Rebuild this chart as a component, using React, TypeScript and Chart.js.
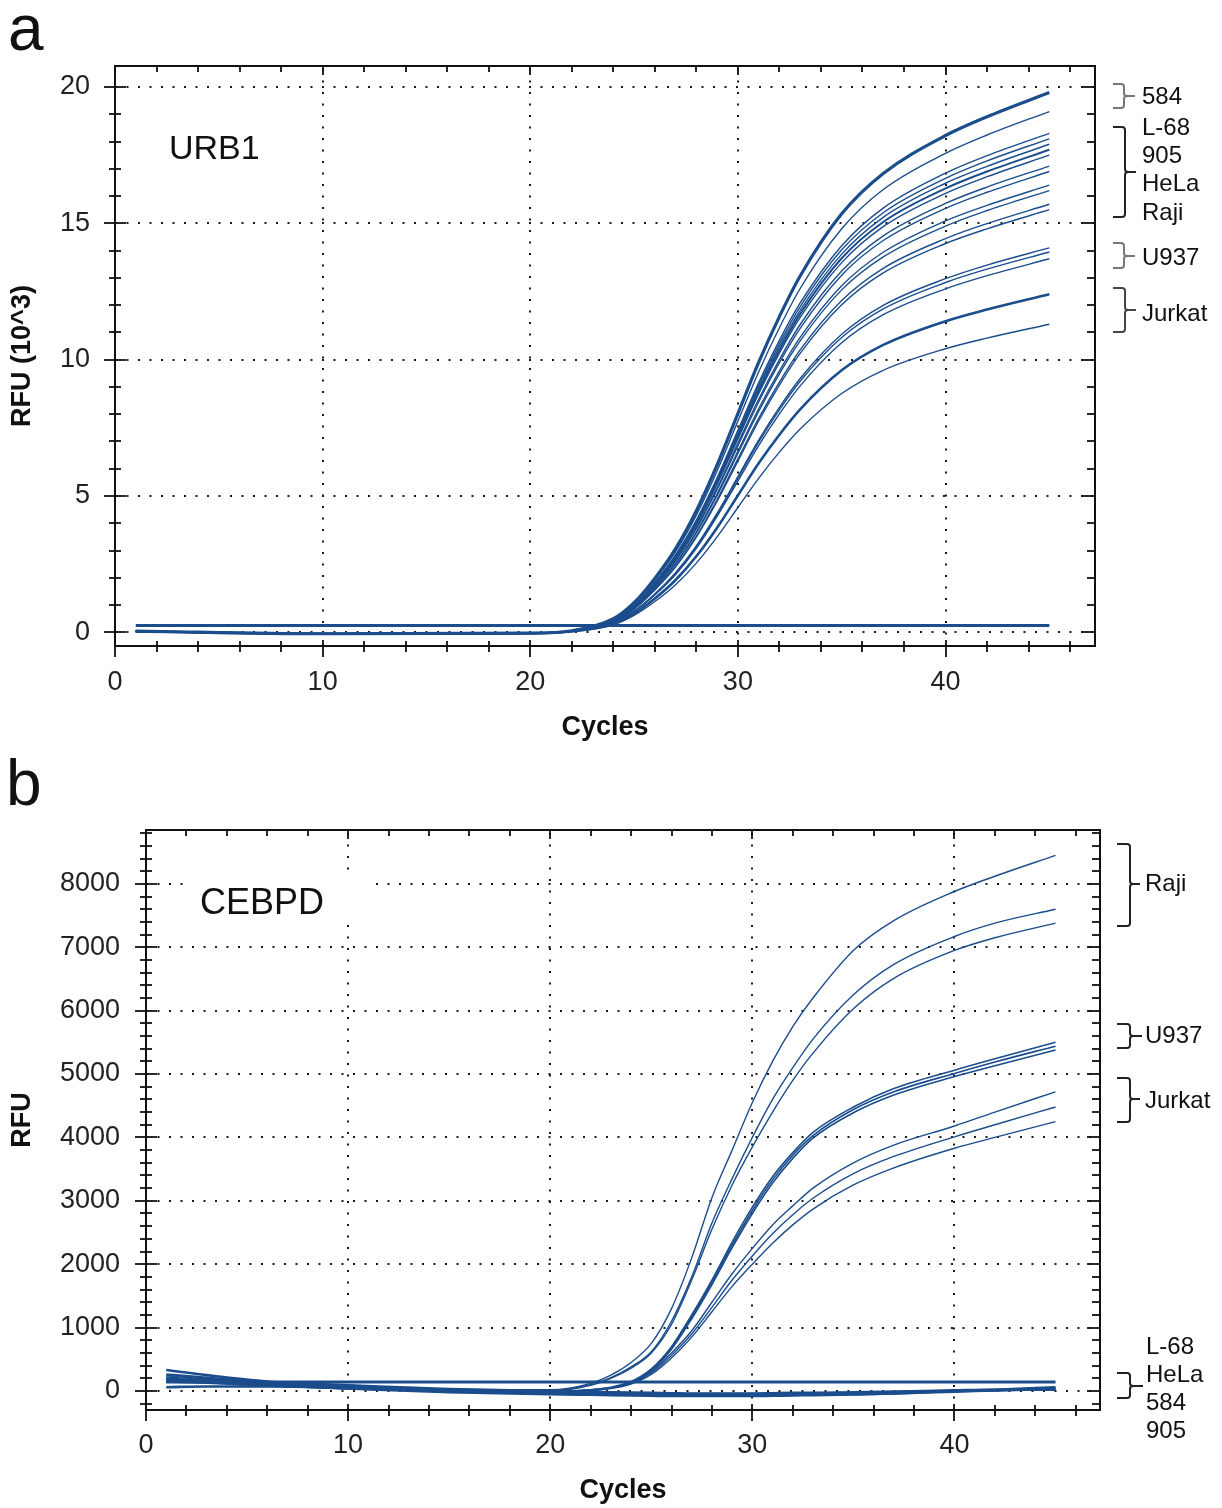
import React, { useEffect, useRef } from 'react';
import { Chart, registerables } from 'chart.js';

Chart.register(...registerables);

// ---------------- Panel a: URB1 (RFU x 10^3) ----------------
const URB1_CYCLES = [1, 10, 20, 22, 24, 25, 26, 27, 28, 29, 30, 31, 32, 33, 35, 37, 40, 42, 45];
const URB1_584_A = [0.05, -0.05, -0.03, 0.06, 0.5, 1.09, 1.98, 3.07, 4.46, 6.14, 8.02, 9.9, 11.58, 13.07, 15.35, 16.83, 18.22, 18.91, 19.8];
const URB1_584_B = [0.05, -0.05, -0.03, 0.06, 0.48, 1.05, 1.91, 2.96, 4.3, 5.92, 7.74, 9.55, 11.17, 12.61, 14.8, 16.24, 17.57, 18.24, 19.1];
const URB1_MID_1 = [0.04, -0.05, -0.03, 0.05, 0.46, 1.0, 1.83, 2.84, 4.12, 5.67, 7.41, 9.15, 10.71, 12.08, 14.18, 15.56, 16.84, 17.48, 18.3];
const URB1_MID_2 = [0.04, -0.05, -0.03, 0.05, 0.45, 1.0, 1.81, 2.81, 4.07, 5.61, 7.33, 9.05, 10.59, 11.95, 14.03, 15.39, 16.65, 17.29, 18.1];
const URB1_MID_3 = [0.04, -0.05, -0.03, 0.05, 0.45, 0.98, 1.79, 2.77, 4.03, 5.55, 7.25, 8.95, 10.47, 11.81, 13.87, 15.22, 16.47, 17.09, 17.9];
const URB1_MID_4 = [0.04, -0.05, -0.03, 0.05, 0.44, 0.97, 1.77, 2.74, 3.98, 5.49, 7.17, 8.85, 10.35, 11.68, 13.72, 15.05, 16.28, 16.9, 17.7];
const URB1_MID_5 = [0.04, -0.05, -0.03, 0.05, 0.44, 0.96, 1.75, 2.71, 3.94, 5.43, 7.09, 8.75, 10.24, 11.55, 13.56, 14.88, 16.1, 16.71, 17.5];
const URB1_MID_6 = [0.04, -0.05, -0.03, 0.05, 0.43, 0.94, 1.71, 2.65, 3.85, 5.3, 6.93, 8.55, 10.0, 11.29, 13.25, 14.54, 15.73, 16.33, 17.1];
const URB1_MID_7 = [0.04, -0.05, -0.03, 0.05, 0.42, 0.93, 1.69, 2.62, 3.8, 5.24, 6.84, 8.45, 9.89, 11.15, 13.1, 14.37, 15.55, 16.14, 16.9];
const URB1_MID_8 = [0.04, -0.05, -0.03, 0.05, 0.41, 0.9, 1.64, 2.54, 3.69, 5.08, 6.64, 8.2, 9.59, 10.82, 12.71, 13.94, 15.09, 15.66, 16.4];
const URB1_MID_9 = [0.04, -0.05, -0.03, 0.05, 0.41, 0.89, 1.62, 2.51, 3.65, 5.02, 6.56, 8.1, 9.48, 10.69, 12.56, 13.77, 14.9, 15.47, 16.2];
const URB1_MID_10 = [0.04, -0.05, -0.03, 0.05, 0.39, 0.86, 1.57, 2.43, 3.53, 4.87, 6.36, 7.85, 9.18, 10.36, 12.17, 13.35, 14.44, 14.99, 15.7];
const URB1_MID_11 = [0.04, -0.05, -0.03, 0.05, 0.39, 0.85, 1.55, 2.4, 3.49, 4.81, 6.28, 7.75, 9.07, 10.23, 12.01, 13.18, 14.26, 14.8, 15.5];
const URB1_U937_1 = [0.03, -0.05, -0.03, 0.04, 0.35, 0.78, 1.41, 2.19, 3.17, 4.37, 5.71, 7.05, 8.25, 9.31, 10.93, 11.99, 12.97, 13.47, 14.1];
const URB1_U937_2 = [0.03, -0.05, -0.03, 0.04, 0.35, 0.77, 1.4, 2.16, 3.14, 4.32, 5.65, 6.98, 8.16, 9.21, 10.81, 11.86, 12.83, 13.32, 13.95];
const URB1_U937_3 = [0.03, -0.05, -0.03, 0.04, 0.34, 0.75, 1.37, 2.12, 3.08, 4.25, 5.55, 6.85, 8.01, 9.04, 10.62, 11.65, 12.6, 13.08, 13.7];
const URB1_JURKAT_1 = [0.03, -0.05, -0.03, 0.04, 0.31, 0.68, 1.24, 1.92, 2.79, 3.84, 5.02, 6.2, 7.25, 8.18, 9.61, 10.54, 11.41, 11.84, 12.4];
const URB1_JURKAT_2 = [0.03, -0.05, -0.03, 0.03, 0.28, 0.62, 1.13, 1.75, 2.54, 3.5, 4.58, 5.65, 6.61, 7.46, 8.76, 9.61, 10.4, 10.79, 11.3];
const URB1_NTC = [0.25, 0.25, 0.25, 0.25, 0.25, 0.25, 0.25, 0.25, 0.25, 0.25, 0.25, 0.25, 0.25, 0.25, 0.25, 0.25, 0.25, 0.25, 0.25];

const URB1_SERIES = [URB1_NTC, URB1_584_A, URB1_584_B, URB1_MID_1, URB1_MID_2, URB1_MID_3, URB1_MID_4, URB1_MID_5, URB1_MID_6, URB1_MID_7, URB1_MID_8, URB1_MID_9, URB1_MID_10, URB1_MID_11, URB1_U937_1, URB1_U937_2, URB1_U937_3, URB1_JURKAT_1, URB1_JURKAT_2];
const URB1_WIDTHS = [3, 3.2, 1.4, 1.4, 1.4, 1.4, 2, 1.4, 1.4, 1.4, 1.4, 1.4, 1.4, 1.4, 1.4, 1.4, 1.4, 2.6, 1.4];

const X_TICKS = [0, 10, 20, 30, 40];
const URB1_Y_TICKS = [0, 5, 10, 15, 20];

// ---------------- Panel b: CEBPD (RFU) ----------------
const CEBPD_CYCLES = [1, 3, 6, 10, 15, 20, 22, 23, 24, 25, 26, 27, 28, 29, 30, 31, 32, 33, 35, 37, 40, 42, 45];
const CEBPD_RAJI_1 = [220, 180, 120, 60, 20, 20, 120, 250, 450, 750, 1300, 2100, 3050, 3800, 4550, 5200, 5750, 6200, 6950, 7420, 7880, 8120, 8450];
const CEBPD_RAJI_2 = [200, 170, 110, 50, 10, 10, 100, 210, 380, 620, 1100, 1800, 2650, 3350, 4000, 4600, 5100, 5550, 6250, 6730, 7170, 7380, 7600];
const CEBPD_RAJI_3 = [240, 190, 130, 70, 20, 0, 90, 200, 360, 600, 1050, 1750, 2550, 3250, 3850, 4400, 4900, 5330, 6030, 6510, 6950, 7150, 7380];
const CEBPD_U937_1 = [180, 150, 100, 40, 0, -10, 20, 60, 150, 350, 700, 1200, 1750, 2350, 2900, 3380, 3760, 4080, 4480, 4770, 5060, 5240, 5500];
const CEBPD_U937_2 = [160, 140, 90, 40, 0, -10, 20, 55, 140, 335, 680, 1170, 1720, 2300, 2850, 3330, 3720, 4030, 4440, 4720, 5010, 5190, 5440];
const CEBPD_U937_3 = [200, 160, 100, 50, 10, -10, 15, 50, 130, 320, 660, 1140, 1680, 2260, 2800, 3280, 3670, 3990, 4390, 4670, 4960, 5130, 5380];
const CEBPD_JURKAT_1 = [170, 140, 90, 40, 0, -20, 10, 50, 130, 300, 600, 950, 1400, 1850, 2250, 2620, 2920, 3200, 3600, 3880, 4180, 4400, 4720];
const CEBPD_JURKAT_2 = [190, 150, 100, 50, 0, -20, 10, 45, 120, 280, 560, 900, 1320, 1750, 2130, 2480, 2780, 3040, 3430, 3700, 4010, 4200, 4480];
const CEBPD_JURKAT_3 = [150, 130, 80, 30, -10, -30, 5, 40, 110, 260, 520, 850, 1250, 1650, 2000, 2330, 2620, 2870, 3250, 3520, 3830, 4000, 4250];
const CEBPD_NEG_1 = [330, 250, 150, 80, 10, -30, -40, -50, -55, -60, -65, -70, -70, -70, -70, -65, -60, -55, -50, -40, -10, 10, 40];
const CEBPD_NEG_2 = [150, 130, 90, 40, -20, -50, -60, -65, -70, -75, -80, -80, -80, -80, -80, -75, -70, -65, -55, -40, 0, 20, 60];
const CEBPD_NEG_3 = [260, 210, 140, 90, 30, 0, -10, -20, -25, -30, -35, -40, -40, -40, -40, -35, -30, -30, -20, -10, 10, 20, 20];
const CEBPD_NEG_4 = [60, 70, 70, 50, 20, -10, -20, -30, -35, -40, -45, -50, -50, -50, -50, -45, -40, -35, -30, -20, 0, 10, 30];
const CEBPD_NTC = [140, 140, 140, 140, 140, 140, 140, 140, 140, 140, 140, 140, 140, 140, 140, 140, 140, 140, 140, 140, 140, 140, 140];

const CEBPD_SERIES = [CEBPD_NEG_1, CEBPD_NEG_2, CEBPD_NEG_3, CEBPD_NEG_4, CEBPD_NTC, CEBPD_RAJI_1, CEBPD_RAJI_2, CEBPD_RAJI_3, CEBPD_U937_1, CEBPD_U937_2, CEBPD_U937_3, CEBPD_JURKAT_1, CEBPD_JURKAT_2, CEBPD_JURKAT_3];
const CEBPD_WIDTHS = [2.6, 2.6, 2.6, 2.6, 3, 1.4, 1.4, 1.4, 1.6, 1.6, 1.6, 1.4, 1.4, 1.4];
const CEBPD_Y_TICKS = [0, 1000, 2000, 3000, 4000, 5000, 6000, 7000, 8000];

const BLUE = '#1b4d8c';
const FONT = '"Liberation Sans", Arial, Helvetica, sans-serif';

type FrameOpts = {
  xMajor: number[];
  yMajor: number[];
  xMinorStep: number;
  yMinorStep: number;
  yMinorStart: number;
};

const framePlugin = {
  id: 'frame',
  beforeDatasetsDraw(chart: any, _args: any, o: FrameOpts) {
    const { ctx, chartArea: a, scales } = chart;
    const x = scales.x;
    const y = scales.y;
    ctx.save();
    ctx.strokeStyle = '#1a1a1a';
    ctx.lineWidth = 2;
    ctx.setLineDash([2, 9.5]);
    o.xMajor.forEach((v) => {
      if (v === 0) return;
      const px = Math.round(x.getPixelForValue(v));
      ctx.beginPath();
      ctx.moveTo(px, a.bottom);
      ctx.lineTo(px, a.top);
      ctx.stroke();
    });
    o.yMajor.forEach((v) => {
      const py = Math.round(y.getPixelForValue(v));
      ctx.beginPath();
      ctx.moveTo(a.left, py);
      ctx.lineTo(a.right, py);
      ctx.stroke();
    });
    ctx.restore();
  },
  afterDatasetsDraw(chart: any, _args: any, o: FrameOpts) {
    const { ctx, chartArea: a, scales } = chart;
    const x = scales.x;
    const y = scales.y;
    ctx.save();
    ctx.strokeStyle = '#111';
    ctx.lineWidth = 2;
    ctx.strokeRect(a.left, a.top, a.right - a.left, a.bottom - a.top);
    ctx.lineWidth = 1.8;
    const seg = (x1: number, y1: number, x2: number, y2: number) => {
      ctx.beginPath();
      ctx.moveTo(x1, y1);
      ctx.lineTo(x2, y2);
      ctx.stroke();
    };
    for (let v = 0; v <= x.max + 1e-6; v += o.xMinorStep) {
      const px = Math.round(x.getPixelForValue(v));
      const major = o.xMajor.includes(v);
      seg(px, a.bottom - (major ? 6 : 5), px, a.bottom + (major ? 11 : 6));
      seg(px, a.top, px, a.top + (major ? 9 : 6));
    }
    for (let v = o.yMinorStart; v <= y.max + 1e-6; v += o.yMinorStep) {
      const py = Math.round(y.getPixelForValue(v));
      const major = o.yMajor.includes(Math.round(v * 1000) / 1000);
      seg(a.left - (major ? 11 : 6), py, a.left + (major ? 11 : 6), py);
      seg(a.right - (major ? 13 : 8), py, a.right, py);
    }
    ctx.restore();
  },
};

function makeConfig(
  cycles: number[],
  series: number[][],
  widths: number[],
  yMin: number,
  yMax: number,
  yTicks: number[],
  yTitle: string,
  layout: { top: number; right: number; yWidth: number; xHeight: number; yLabelPad: number; xLabelPad: number; xTitlePad: number },
  frame: FrameOpts
) {
  return {
    type: 'line' as const,
    data: {
      datasets: series.map((vals, i) => ({
        data: cycles.map((c, j) => ({ x: c, y: vals[j] })),
        borderColor: BLUE,
        borderWidth: widths[i],
        pointRadius: 0,
        fill: false,
        cubicInterpolationMode: 'monotone' as const,
      })),
    },
    options: {
      animation: false as const,
      responsive: false,
      maintainAspectRatio: false,
      layout: { padding: { top: layout.top, right: layout.right, left: 0, bottom: 0 } },
      plugins: {
        legend: { display: false },
        tooltip: { enabled: false },
        frame,
      },
      scales: {
        x: {
          type: 'linear' as const,
          min: 0,
          max: 47.2,
          afterBuildTicks: (s: any) => {
            s.ticks = X_TICKS.map((v) => ({ value: v }));
          },
          afterFit: (s: any) => {
            s.height = layout.xHeight;
          },
          grid: { display: false, drawTicks: false },
          border: { display: false },
          ticks: {
            color: '#222',
            padding: layout.xLabelPad,
            font: { family: FONT, size: 27 },
            maxRotation: 0,
            autoSkip: false,
            callback: (v: any) => String(v),
          },
          title: {
            display: true,
            text: 'Cycles',
            color: '#111',
            font: { family: FONT, size: 27, weight: 'bold' as const },
            padding: { top: 0, bottom: layout.xTitlePad },
          },
        },
        y: {
          type: 'linear' as const,
          min: yMin,
          max: yMax,
          afterBuildTicks: (s: any) => {
            s.ticks = yTicks.map((v) => ({ value: v }));
          },
          afterFit: (s: any) => {
            s.width = layout.yWidth;
          },
          grid: { display: false, drawTicks: false },
          border: { display: false },
          ticks: {
            color: '#222',
            padding: layout.yLabelPad,
            font: { family: FONT, size: 27 },
            autoSkip: false,
            callback: (v: any) => String(v),
          },
          title: {
            display: true,
            text: yTitle,
            color: '#111',
            font: { family: FONT, size: 27, weight: 'bold' as const },
            padding: { top: 6, bottom: 0 },
          },
        },
      },
    },
    plugins: [framePlugin],
  };
}

function Panel(props: { cfg: any; top: number; height: number }) {
  const ref = useRef<HTMLCanvasElement | null>(null);
  useEffect(() => {
    if (!ref.current) return;
    const chart = new Chart(ref.current, props.cfg);
    return () => chart.destroy();
  }, []);
  return (
    <canvas
      ref={ref}
      width={1222}
      height={props.height}
      style={{ position: 'absolute', left: 0, top: props.top, width: 1222, height: props.height, display: 'block' }}
    />
  );
}

function Brace(p: { x0: number; x1: number; x2: number; y1: number; y2: number; ym: number; color: string }) {
  const { x0, x1, x2, y1, y2, ym, color } = p;
  const d = `M${x0},${y1} L${x1 - 3},${y1} Q${x1},${y1} ${x1},${y1 + 3} L${x1},${ym - 3} Q${x1},${ym} ${x1 + 3},${ym} L${x2},${ym} M${x1 + 3},${ym} Q${x1},${ym} ${x1},${ym + 3} L${x1},${y2 - 3} Q${x1},${y2} ${x1 - 3},${y2} L${x0},${y2}`;
  return <path d={d} fill="none" stroke={color} strokeWidth={2} />;
}

export default function App() {
  const topCfg = makeConfig(
    URB1_CYCLES,
    URB1_SERIES,
    URB1_WIDTHS,
    -0.5,
    20.77,
    URB1_Y_TICKS,
    'RFU (10^3)',
    { top: 66, right: 127, yWidth: 115, xHeight: 104, yLabelPad: 25, xLabelPad: 20, xTitlePad: 6 },
    { xMajor: X_TICKS, yMajor: URB1_Y_TICKS, xMinorStep: 2, yMinorStep: 1, yMinorStart: 0 }
  );
  const botCfg = makeConfig(
    CEBPD_CYCLES,
    CEBPD_SERIES,
    CEBPD_WIDTHS,
    -300,
    8850,
    CEBPD_Y_TICKS,
    'RFU',
    { top: 80, right: 122, yWidth: 146, xHeight: 98, yLabelPad: 26, xLabelPad: 19, xTitlePad: 1 },
    { xMajor: X_TICKS, yMajor: CEBPD_Y_TICKS, xMinorStep: 2, yMinorStep: 200, yMinorStart: -200 }
  );

  const txt = { fontFamily: FONT, fill: '#111' } as const;

  return (
    <div style={{ position: 'absolute', left: 0, top: 0, width: 1222, height: 1508, background: '#fff', overflow: 'hidden' }}>
      <Panel cfg={topCfg} top={0} height={750} />
      <Panel cfg={botCfg} top={750} height={758} />
      <svg width={1222} height={1508} style={{ position: 'absolute', left: 0, top: 0, pointerEvents: 'none' }}>
        <text x={8} y={50} fontSize={64} {...txt}>a</text>
        <text x={6} y={805} fontSize={64} {...txt}>b</text>
        <text x={169} y={159} fontSize={34} {...txt}>URB1</text>
        <rect x={183} y={872} width={190} height={50} fill="#fff" />
        <text x={200} y={914} fontSize={36} {...txt}>CEBPD</text>

        <Brace x0={1113} x1={1124} x2={1135} y1={84} y2={108} ym={96} color="#777" />
        <text x={1142} y={104} fontSize={24} {...txt}>584</text>
        <Brace x0={1113} x1={1125} x2={1136} y1={127} y2={217} ym={172} color="#222" />
        <text x={1142} y={135} fontSize={24} {...txt}>L-68</text>
        <text x={1142} y={163} fontSize={24} {...txt}>905</text>
        <text x={1142} y={191} fontSize={24} {...txt}>HeLa</text>
        <text x={1142} y={220} fontSize={24} {...txt}>Raji</text>
        <Brace x0={1113} x1={1124} x2={1135} y1={243} y2={268} ym={256} color="#777" />
        <text x={1142} y={265} fontSize={24} {...txt}>U937</text>
        <Brace x0={1113} x1={1125} x2={1136} y1={288} y2={332} ym={310} color="#444" />
        <text x={1142} y={321} fontSize={24} {...txt}>Jurkat</text>

        <Brace x0={1117} x1={1130} x2={1140} y1={844} y2={926} ym={884} color="#222" />
        <text x={1145} y={891} fontSize={24} {...txt}>Raji</text>
        <Brace x0={1117} x1={1130} x2={1142} y1={1024} y2={1048} ym={1036} color="#222" />
        <text x={1145} y={1043} fontSize={24} {...txt}>U937</text>
        <Brace x0={1117} x1={1130} x2={1140} y1={1078} y2={1122} ym={1099} color="#222" />
        <text x={1145} y={1108} fontSize={24} {...txt}>Jurkat</text>
        <Brace x0={1117} x1={1130} x2={1143} y1={1373} y2={1398} ym={1386} color="#222" />
        <text x={1146} y={1354} fontSize={24} {...txt}>L-68</text>
        <text x={1146} y={1382} fontSize={24} {...txt}>HeLa</text>
        <text x={1146} y={1410} fontSize={24} {...txt}>584</text>
        <text x={1146} y={1438} fontSize={24} {...txt}>905</text>
      </svg>
    </div>
  );
}
